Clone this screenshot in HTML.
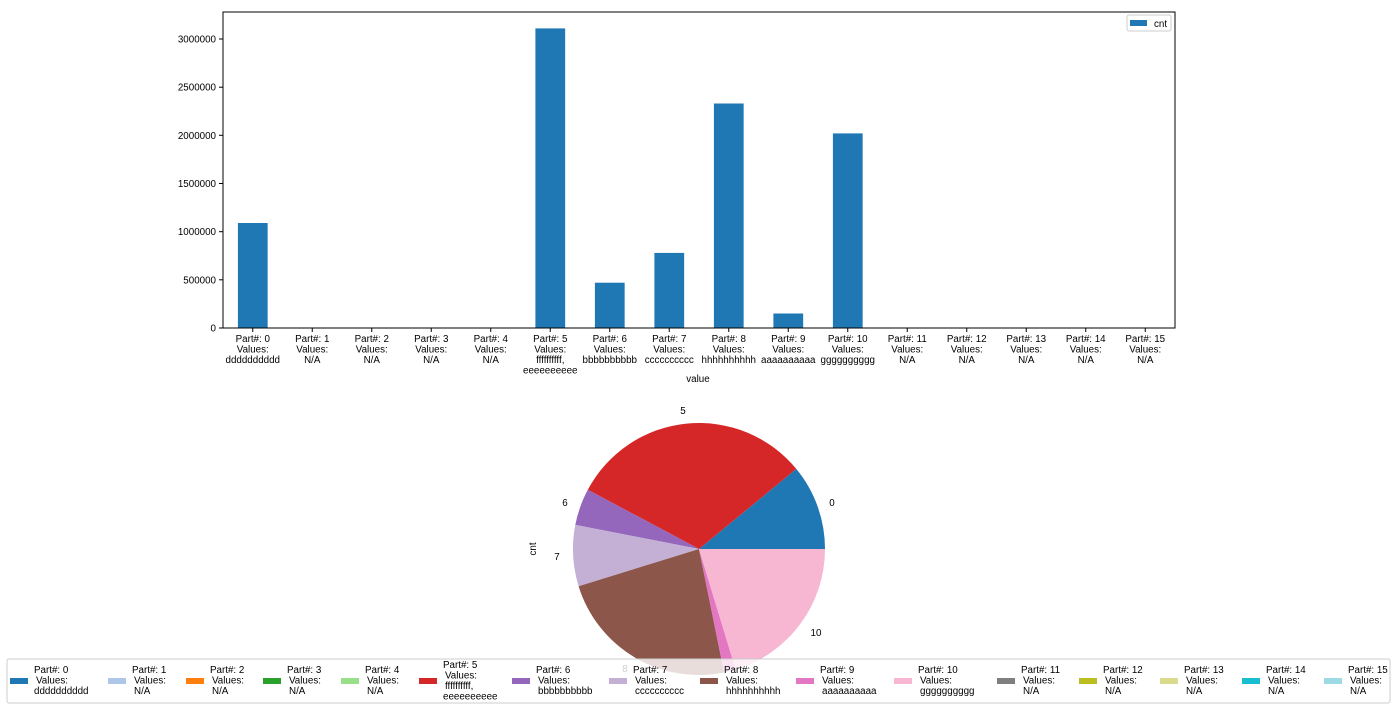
<!DOCTYPE html>
<html><head><meta charset="utf-8"><style>
body{margin:0;background:#fff;}
svg{display:block;font-family:"Liberation Sans","DejaVu Sans",sans-serif;font-size:9.8px;fill:#000;}
</style></head><body>
<svg width="1400" height="710" viewBox="0 0 1400 710" xmlns="http://www.w3.org/2000/svg">
<g fill="#1f77b4">
<rect x="237.9" y="223" width="29.75" height="105"/>
<rect x="535.4" y="28.4" width="29.75" height="299.6"/>
<rect x="594.9" y="282.7" width="29.75" height="45.3"/>
<rect x="654.4" y="252.9" width="29.75" height="75.1"/>
<rect x="713.9" y="103.5" width="29.75" height="224.5"/>
<rect x="773.4" y="313.5" width="29.75" height="14.5"/>
<rect x="832.9" y="133.4" width="29.75" height="194.6"/>
</g>
<rect x="223" y="12" width="952" height="316" fill="none" stroke="#000" stroke-width="1"/>
<g stroke="#000" stroke-width="1">
<line x1="219" y1="328" x2="223" y2="328"/><line x1="219" y1="279.8" x2="223" y2="279.8"/><line x1="219" y1="231.7" x2="223" y2="231.7"/><line x1="219" y1="183.5" x2="223" y2="183.5"/><line x1="219" y1="135.3" x2="223" y2="135.3"/><line x1="219" y1="87.2" x2="223" y2="87.2"/><line x1="219" y1="39" x2="223" y2="39"/>
</g>
<g text-anchor="end">
<text x="216" y="331.5">0</text><text x="216" y="283.3">500000</text><text x="216" y="235.2">1000000</text><text x="216" y="187">1500000</text><text x="216" y="138.8">2000000</text><text x="216" y="90.7">2500000</text><text x="216" y="42.5">3000000</text>
</g>
<g stroke="#000"><line x1="252.75" y1="328" x2="252.75" y2="332"/><line x1="312.25" y1="328" x2="312.25" y2="332"/><line x1="371.75" y1="328" x2="371.75" y2="332"/><line x1="431.25" y1="328" x2="431.25" y2="332"/><line x1="490.75" y1="328" x2="490.75" y2="332"/><line x1="550.25" y1="328" x2="550.25" y2="332"/><line x1="609.75" y1="328" x2="609.75" y2="332"/><line x1="669.25" y1="328" x2="669.25" y2="332"/><line x1="728.75" y1="328" x2="728.75" y2="332"/><line x1="788.25" y1="328" x2="788.25" y2="332"/><line x1="847.75" y1="328" x2="847.75" y2="332"/><line x1="907.25" y1="328" x2="907.25" y2="332"/><line x1="966.75" y1="328" x2="966.75" y2="332"/><line x1="1026.25" y1="328" x2="1026.25" y2="332"/><line x1="1085.75" y1="328" x2="1085.75" y2="332"/><line x1="1145.25" y1="328" x2="1145.25" y2="332"/></g>
<g text-anchor="middle">
<text x="252.75" y="342">Part#: 0</text><text x="252.75" y="352.5">Values:</text><text x="252.75" y="363">dddddddddd</text>
<text x="312.25" y="342">Part#: 1</text><text x="312.25" y="352.5">Values:</text><text x="312.25" y="363">N/A</text>
<text x="371.75" y="342">Part#: 2</text><text x="371.75" y="352.5">Values:</text><text x="371.75" y="363">N/A</text>
<text x="431.25" y="342">Part#: 3</text><text x="431.25" y="352.5">Values:</text><text x="431.25" y="363">N/A</text>
<text x="490.75" y="342">Part#: 4</text><text x="490.75" y="352.5">Values:</text><text x="490.75" y="363">N/A</text>
<text x="550.25" y="342">Part#: 5</text><text x="550.25" y="352.5">Values:</text><text x="550.25" y="363">ffffffffff,</text><text x="550.25" y="373.5">eeeeeeeeee</text>
<text x="609.75" y="342">Part#: 6</text><text x="609.75" y="352.5">Values:</text><text x="609.75" y="363">bbbbbbbbbb</text>
<text x="669.25" y="342">Part#: 7</text><text x="669.25" y="352.5">Values:</text><text x="669.25" y="363">cccccccccc</text>
<text x="728.75" y="342">Part#: 8</text><text x="728.75" y="352.5">Values:</text><text x="728.75" y="363">hhhhhhhhhh</text>
<text x="788.25" y="342">Part#: 9</text><text x="788.25" y="352.5">Values:</text><text x="788.25" y="363">aaaaaaaaaa</text>
<text x="847.75" y="342">Part#: 10</text><text x="847.75" y="352.5">Values:</text><text x="847.75" y="363">gggggggggg</text>
<text x="907.25" y="342">Part#: 11</text><text x="907.25" y="352.5">Values:</text><text x="907.25" y="363">N/A</text>
<text x="966.75" y="342">Part#: 12</text><text x="966.75" y="352.5">Values:</text><text x="966.75" y="363">N/A</text>
<text x="1026.25" y="342">Part#: 13</text><text x="1026.25" y="352.5">Values:</text><text x="1026.25" y="363">N/A</text>
<text x="1085.75" y="342">Part#: 14</text><text x="1085.75" y="352.5">Values:</text><text x="1085.75" y="363">N/A</text>
<text x="1145.25" y="342">Part#: 15</text><text x="1145.25" y="352.5">Values:</text><text x="1145.25" y="363">N/A</text>
<text x="698" y="382">value</text>
</g>
<rect x="1127" y="15" width="44" height="16" rx="2" fill="#fff" stroke="#ccc"/>
<rect x="1130" y="20" width="17" height="6" fill="#1f77b4"/>
<text x="1154" y="27">cnt</text>

<path d="M699,549 L825,549 A126,126 0 0 0 796.3,468.9 Z" fill="#1f77b4"/>
<path d="M699,549 L796.3,468.9 A126,126 0 0 0 587.8,489.8 Z" fill="#d62728"/>
<path d="M699,549 L587.8,489.8 A126,126 0 0 0 575.3,524.9 Z" fill="#9467bd"/>
<path d="M699,549 L575.3,524.9 A126,126 0 0 0 578.6,586.2 Z" fill="#c5b0d5"/>
<path d="M699,549 L578.6,586.2 A126,126 0 0 0 724.1,672.5 Z" fill="#8c564b"/>
<path d="M699,549 L724.1,672.5 A126,126 0 0 0 735.7,669.6 Z" fill="#e377c2"/>
<path d="M699,549 L735.7,669.6 A126,126 0 0 0 825,549 Z" fill="#f7b6d2"/>
<g text-anchor="middle">
<text x="832" y="506">0</text><text x="683" y="414">5</text><text x="565" y="506">6</text><text x="557" y="560">7</text><text x="625" y="672">8</text><text x="816" y="636">10</text>
</g>
<text transform="translate(536,549) rotate(-90)" text-anchor="middle">cnt</text>

<rect x="7" y="659" width="1383" height="44" rx="2" fill="#fff" fill-opacity="0.8" stroke="#ccc"/>
<g>
<rect x="10" y="678" width="18" height="6" fill="#1f77b4"/><text x="34" y="673">Part#: 0</text><text x="36" y="683.5">Values:</text><text x="34" y="694">dddddddddd</text>
<rect x="108" y="678" width="18" height="6" fill="#aec7e8"/><text x="132" y="673">Part#: 1</text><text x="134" y="683.5">Values:</text><text x="134" y="694">N/A</text>
<rect x="186" y="678" width="18" height="6" fill="#ff7f0e"/><text x="210" y="673">Part#: 2</text><text x="212" y="683.5">Values:</text><text x="212" y="694">N/A</text>
<rect x="263" y="678" width="18" height="6" fill="#2ca02c"/><text x="287" y="673">Part#: 3</text><text x="289" y="683.5">Values:</text><text x="289" y="694">N/A</text>
<rect x="341" y="678" width="18" height="6" fill="#98df8a"/><text x="365" y="673">Part#: 4</text><text x="367" y="683.5">Values:</text><text x="367" y="694">N/A</text>
<rect x="419" y="678" width="18" height="6" fill="#d62728"/><text x="443" y="668">Part#: 5</text><text x="445" y="678.5">Values:</text><text x="445" y="689">ffffffffff,</text><text x="443" y="699.5">eeeeeeeeee</text>
<rect x="512" y="678" width="18" height="6" fill="#9467bd"/><text x="536" y="673">Part#: 6</text><text x="538" y="683.5">Values:</text><text x="538" y="694">bbbbbbbbbb</text>
<rect x="609" y="678" width="18" height="6" fill="#c5b0d5"/><text x="633" y="673">Part#: 7</text><text x="635" y="683.5">Values:</text><text x="635" y="694">cccccccccc</text>
<rect x="700" y="678" width="18" height="6" fill="#8c564b"/><text x="724" y="673">Part#: 8</text><text x="726" y="683.5">Values:</text><text x="726" y="694">hhhhhhhhhh</text>
<rect x="796" y="678" width="18" height="6" fill="#e377c2"/><text x="820" y="673">Part#: 9</text><text x="822" y="683.5">Values:</text><text x="822" y="694">aaaaaaaaaa</text>
<rect x="894" y="678" width="18" height="6" fill="#f7b6d2"/><text x="918" y="673">Part#: 10</text><text x="920" y="683.5">Values:</text><text x="920" y="694">gggggggggg</text>
<rect x="997" y="678" width="18" height="6" fill="#7f7f7f"/><text x="1021" y="673">Part#: 11</text><text x="1023" y="683.5">Values:</text><text x="1023" y="694">N/A</text>
<rect x="1079" y="678" width="18" height="6" fill="#bcbd22"/><text x="1103" y="673">Part#: 12</text><text x="1105" y="683.5">Values:</text><text x="1105" y="694">N/A</text>
<rect x="1160" y="678" width="18" height="6" fill="#dbdb8d"/><text x="1184" y="673">Part#: 13</text><text x="1186" y="683.5">Values:</text><text x="1186" y="694">N/A</text>
<rect x="1242" y="678" width="18" height="6" fill="#17becf"/><text x="1266" y="673">Part#: 14</text><text x="1268" y="683.5">Values:</text><text x="1268" y="694">N/A</text>
<rect x="1324" y="678" width="18" height="6" fill="#9edae5"/><text x="1348" y="673">Part#: 15</text><text x="1350" y="683.5">Values:</text><text x="1350" y="694">N/A</text>
</g>
</svg>
</body></html>
